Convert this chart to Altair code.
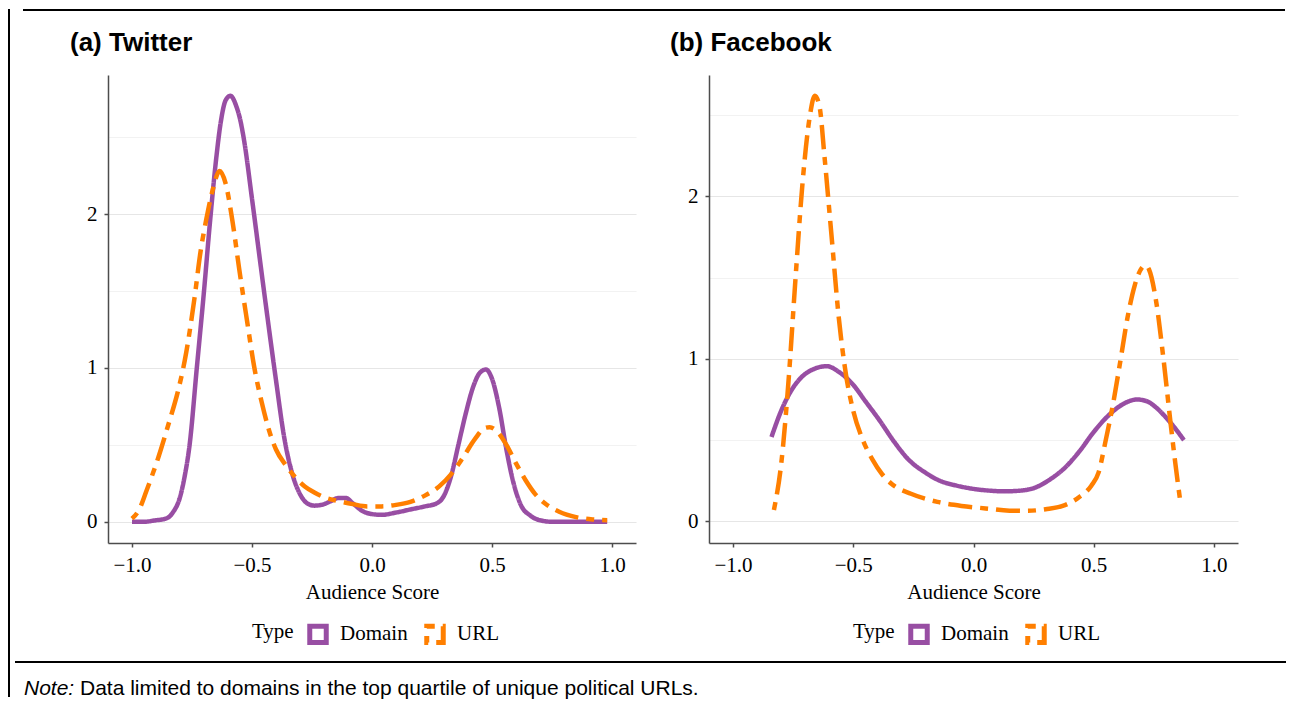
import altair as alt
import pandas as pd

# ---------------- data ----------------
types = ["Domain", "URL"]
colors = ["#984ea3", "#ff7f00"]
dashes = [[1, 0], [8, 8, 24, 8]]
x_ticks = [-1.0, -0.5, 0.0, 0.5, 1.0]
y_ticks = [0, 0.5, 1, 1.5, 2, 2.5]

tw_domain_x = [-1.00, -0.95, -0.90, -0.86, -0.83, -0.80, -0.78, -0.76, -0.73, -0.70,
               -0.675, -0.65, -0.63, -0.61, -0.59, -0.565, -0.55, -0.533, -0.50, -0.45,
               -0.40, -0.366, -0.33, -0.30, -0.27, -0.24, -0.21, -0.17, -0.14, -0.11,
               -0.08, -0.04, 0.00, 0.04, 0.10, 0.16, 0.22, 0.27, 0.30, 0.33,
               0.36, 0.39, 0.42, 0.45, 0.475, 0.50, 0.53, 0.56, 0.59, 0.62,
               0.66, 0.70, 0.75, 0.85, 0.98]
tw_domain_y = [0.00, 0.00, 0.01, 0.02, 0.06, 0.16, 0.30, 0.50, 1.00, 1.50,
               1.95, 2.35, 2.60, 2.74, 2.77, 2.70, 2.62, 2.48, 2.10, 1.50,
               0.92, 0.55, 0.30, 0.18, 0.12, 0.105, 0.11, 0.135, 0.155, 0.155,
               0.12, 0.07, 0.05, 0.045, 0.06, 0.08, 0.10, 0.12, 0.17, 0.30,
               0.50, 0.70, 0.87, 0.97, 0.99, 0.93, 0.74, 0.47, 0.25, 0.11,
               0.04, 0.01, 0.00, 0.00, 0.00]

tw_url_x = [-1.00, -0.97, -0.94, -0.89, -0.845, -0.81, -0.78, -0.74, -0.715, -0.69,
            -0.665, -0.635, -0.61, -0.58, -0.553, -0.52, -0.49, -0.46,
            -0.43, -0.40, -0.36, -0.32, -0.28, -0.24, -0.20, -0.14, -0.08, -0.02,
            0.04, 0.10, 0.16, 0.22, 0.28, 0.33, 0.38, 0.43, 0.47, 0.49,
            0.52, 0.56, 0.60, 0.64, 0.68, 0.72, 0.78, 0.85, 0.92, 0.98]
tw_url_y = [0.02, 0.08, 0.20, 0.42, 0.65, 0.84, 1.05, 1.45, 1.75, 1.97,
            2.15, 2.28, 2.20, 1.94, 1.64, 1.30, 1.00, 0.78,
            0.60, 0.47, 0.37, 0.29, 0.23, 0.19, 0.16, 0.135, 0.115, 0.10,
            0.10, 0.11, 0.13, 0.17, 0.23, 0.31, 0.42, 0.54, 0.61, 0.615,
            0.59, 0.50, 0.38, 0.27, 0.18, 0.12, 0.065, 0.03, 0.015, 0.01]

fb_domain_x = [-0.84, -0.80, -0.76, -0.72, -0.66, -0.61, -0.56, -0.50, -0.45, -0.39,
               -0.33, -0.27, -0.20, -0.14, -0.07, 0.00, 0.06, 0.13, 0.20, 0.26,
               0.32, 0.38, 0.44, 0.50, 0.56, 0.62, 0.68, 0.72, 0.76, 0.80,
               0.84, 0.875]
fb_domain_y = [0.52, 0.68, 0.80, 0.88, 0.94, 0.955, 0.92, 0.84, 0.74, 0.62,
               0.49, 0.38, 0.30, 0.25, 0.22, 0.20, 0.19, 0.185, 0.19, 0.21,
               0.26, 0.33, 0.43, 0.55, 0.65, 0.72, 0.75, 0.74, 0.70, 0.64,
               0.57, 0.50]

fb_url_x = [-0.83, -0.80, -0.77, -0.74, -0.71, -0.68, -0.66, -0.64, -0.62, -0.59,
            -0.56, -0.53, -0.50, -0.46, -0.42, -0.38, -0.34, -0.26, -0.15, -0.05,
            0.05, 0.15, 0.22, 0.30, 0.38, 0.44, 0.49, 0.52, 0.55, 0.58,
            0.61, 0.64, 0.67, 0.70, 0.715, 0.73, 0.76, 0.79, 0.82, 0.84,
            0.862]
fb_url_y = [0.07, 0.35, 0.85, 1.50, 2.10, 2.50, 2.62, 2.55, 2.25, 1.75,
            1.25, 0.90, 0.68, 0.50, 0.38, 0.29, 0.23, 0.17, 0.12, 0.095,
            0.08, 0.066, 0.065, 0.075, 0.10, 0.15, 0.22, 0.30, 0.50, 0.72,
            0.98, 1.25, 1.45, 1.56, 1.575, 1.55, 1.35, 1.00, 0.60, 0.35,
            0.10]

panel_titles = ["(a) Twitter", "(b) Facebook"]
x_title = "Audience Score"
legend_title = "Type"
note_lead = "Note:"
note_text = "Data limited to domains in the top quartile of unique political URLs."

SERIF = "Liberation Serif"
SANS = "Liberation Sans"


def make_df(dx, dy, ux, uy):
    a = pd.DataFrame({"score": dx, "density": dy, "Type": types[0]})
    b = pd.DataFrame({"score": ux, "density": uy, "Type": types[1]})
    return pd.concat([a, b], ignore_index=True)


tw_df = make_df(tw_domain_x, tw_domain_y, tw_url_x, tw_url_y)
fb_df = make_df(fb_domain_x, fb_domain_y, fb_url_x, fb_url_y)
one = pd.DataFrame({"k": [0]})


def legend(lx, ly):
    return alt.Legend(
        title=legend_title, orient="none", legendX=lx, legendY=ly,
        direction="horizontal", titleOrient="left", titleAnchor="middle",
        titleBaseline="alphabetic",
        symbolType="square", symbolSize=272, symbolStrokeWidth=5,
        symbolFillColor="white",
        labelFont=SERIF, labelFontSize=21, labelColor="black",
        titleFont=SERIF, titleFontSize=21, titleFontWeight="normal", titleColor="black",
        titlePadding=13, labelOffset=11, columnPadding=8, padding=0,
    )


def lines(df, ydomain, lx, ly):
    grid_color = {"condition": {"test": "datum.value % 1 !== 0", "value": "#f2f2f2"},
                  "value": "#e6e6e6"}
    tick_color = {"condition": {"test": "datum.value % 1 !== 0", "value": "transparent"},
                  "value": "#4d4d4d"}
    return alt.Chart(df).mark_line(
        strokeWidth=4.5, interpolate="monotone", strokeCap="butt", strokeJoin="round"
    ).encode(
        x=alt.X("score:Q",
                scale=alt.Scale(domain=[-1.1, 1.1], nice=False, zero=False),
                axis=alt.Axis(values=x_ticks, format=".1f", title=x_title, grid=False,
                              labelPadding=7, titlePadding=6, labelOverlap=False)),
        y=alt.Y("density:Q",
                scale=alt.Scale(domain=ydomain, nice=False, zero=False),
                axis=alt.Axis(values=y_ticks, title=None, grid=True,
                              gridColor=grid_color, tickColor=tick_color,
                              labelExpr="datum.value % 1 === 0 ? format(datum.value, 'd') : ''",
                              labelPadding=7, labelOverlap=False)),
        color=alt.Color("Type:N", scale=alt.Scale(domain=types, range=colors),
                        legend=legend(lx, ly)),
        strokeDash=alt.StrokeDash("Type:N", scale=alt.Scale(domain=types, range=dashes),
                                  legend=legend(lx, ly)),
    )


def title_text(txt, dx):
    return alt.Chart(one).mark_text(
        text=txt, font=SANS, fontSize=26, fontWeight="bold", align="left",
        baseline="alphabetic", color="black"
    ).encode(x=alt.value(dx), y=alt.value(-24))


def rule(x1, x2, y1, y2):
    return alt.Chart(one).mark_rule(color="black", strokeWidth=2).encode(
        x=alt.value(x1), x2=alt.value(x2), y=alt.value(y1), y2=alt.value(y2))


note1 = alt.Chart(one).mark_text(
    text=note_lead, font=SANS, fontSize=21, fontStyle="italic", align="left",
    baseline="alphabetic", color="black").encode(x=alt.value(-84), y=alt.value(620))
note2 = alt.Chart(one).mark_text(
    text=note_text, font=SANS, fontSize=21, align="left",
    baseline="alphabetic", color="black").encode(x=alt.value(-28), y=alt.value(620))

left = alt.layer(
    lines(tw_df, [-0.138, 2.905], 144, 548),
    title_text(panel_titles[0], -38),
    rule(-99, -99, -66, 622),
    rule(-85, 1177, -65, -65),
    rule(-93, 1178, 587, 587),
    note1, note2,
).properties(width=528, height=468)

right = alt.layer(
    lines(fb_df, [-0.133, 2.747], 144, 548),
    title_text(panel_titles[1], -39),
).properties(width=529, height=468)

chart = alt.hconcat(left, right, spacing=73, bounds="flush").resolve_scale(
    x="independent", y="independent", color="independent", strokeDash="independent"
).properties(padding=0).configure_view(stroke=None).configure_axis(
    labelFont=SERIF, labelFontSize=21, labelColor="black",
    titleFont=SERIF, titleFontSize=21, titleColor="black", titleFontWeight="normal",
    domainColor="#4d4d4d", domainWidth=1.5, tickColor="#4d4d4d", tickWidth=1.5,
    tickSize=4, gridWidth=1.2,
)

chart.save("out.html", embed_options={"renderer": "svg", "actions": False})
